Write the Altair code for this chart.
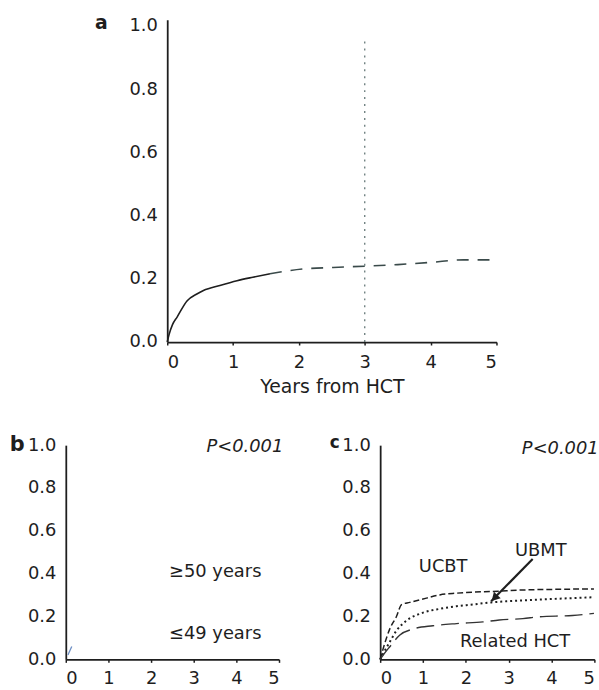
import altair as alt
import pandas as pd

FONT = "DejaVu Sans"
INK = "#1e1e1e"

# ---------------- Panel a : overall cumulative incidence ----------------
years_a = [0, 0.03, 0.08, 0.15, 0.3, 0.45, 0.55, 0.8, 1.06, 1.3, 1.56, 2.06, 2.52, 3.0, 3.5, 4.0, 4.5, 4.95]
cum_a = [0, 0.025, 0.055, 0.079, 0.13, 0.152, 0.163, 0.179, 0.194, 0.205, 0.216, 0.231, 0.236, 0.24, 0.245, 0.252, 0.26, 0.26]
ref_year = [3.0]
ref_top = [0.96]

# ---------------- Panel b : by age ----------------
years_b = [0.05, 0.14]
cum_b = [0.02, 0.06]
labels_b = ["≥50 years", "≤49 years"]
label_b_x = [2.42, 2.42]
label_b_y = [0.41, 0.12]

# ---------------- Panel c : by donor type ----------------
ucbt_t = [0, 0.07, 0.22, 0.38, 0.5, 0.69, 1.08, 1.39, 1.78, 2.16, 2.63, 3.33, 4.1, 4.99]
ucbt_v = [0, 0.05, 0.14, 0.2, 0.256, 0.266, 0.286, 0.301, 0.309, 0.314, 0.317, 0.324, 0.327, 0.329]
ubmt_t = [0, 0.07, 0.22, 0.38, 0.61, 1.0, 1.39, 1.78, 2.16, 2.59, 2.94, 3.71, 4.49, 4.99]
ubmt_v = [0, 0.027, 0.08, 0.134, 0.18, 0.218, 0.236, 0.248, 0.256, 0.266, 0.271, 0.279, 0.286, 0.29]
rel_t = [0, 0.07, 0.22, 0.46, 0.77, 1.23, 1.78, 2.4, 2.78, 3.33, 3.71, 4.49, 4.99]
rel_v = [0, 0.02, 0.058, 0.114, 0.142, 0.157, 0.167, 0.175, 0.184, 0.19, 0.199, 0.205, 0.215]
labels_c = ["UCBT", "UBMT", "Related HCT"]
label_c_x = [1.47, 3.75, 3.15]
label_c_y = [0.43, 0.507, 0.081]
arrow_from = [3.56, 0.469]
arrow_to = [2.59, 0.271]

panel_letters = ["a", "b", "c"]
letter_x = [-1.0, -1.14, -1.06]
letter_y = [1.01, 1.0, 1.01]
p_text = "P<0.001"

x_ticks = [0, 1, 2, 3, 4, 5]
y_ticks = [0, 0.2, 0.4, 0.6, 0.8, 1.0]


def x_enc(title=None, pad=7):
    return alt.X("t:Q", scale=alt.Scale(domain=[0, 5], nice=False, zero=False),
                 axis=alt.Axis(values=x_ticks, format="d", title=title, grid=False,
                               tickSize=3, labelPadding=pad))


def y_enc(top=1.0):
    return alt.Y("v:Q", scale=alt.Scale(domain=[0, top], nice=False),
                 axis=alt.Axis(values=y_ticks, format=".1f", title=None, grid=False,
                               ticks=False, labelPadding=10))


def txt(df, **kw):
    base = dict(font=FONT, fontSize=18, color=INK)
    base.update(kw)
    return alt.Chart(df).mark_text(**base).encode(x="t:Q", y="v:Q", text="s:N")


# ---- panel a
df_a = pd.DataFrame({"t": years_a, "v": cum_a})
line_a1 = alt.Chart(df_a[df_a.t <= 1.6]).mark_line(
    color=INK, strokeWidth=1.6, interpolate="monotone").encode(
    x=x_enc("Years from HCT", pad=9), y=y_enc(1.02))
line_a2 = alt.Chart(df_a[df_a.t >= 1.56]).mark_line(
    color="#3a4a4a", strokeWidth=1.6, strokeDash=[12, 9], interpolate="monotone").encode(x="t:Q", y="v:Q")
df_ref = pd.DataFrame({"t": ref_year, "v": [0], "v2": ref_top})
ref_a = alt.Chart(df_ref).mark_rule(color="#4a6060", strokeWidth=1.1, strokeDash=[2, 5]).encode(
    x="t:Q", y="v:Q", y2="v2:Q")
let_a = txt(pd.DataFrame({"t": [letter_x[0]], "v": [letter_y[0]], "s": [panel_letters[0]]}),
            fontWeight="bold", fontSize=19)
panel_a = alt.layer(line_a1, line_a2, ref_a, let_a).properties(width=332, height=325)

# ---- panel b
df_b = pd.DataFrame({"t": years_b, "v": cum_b})
line_b = alt.Chart(df_b).mark_line(color="#6d8fc4", strokeWidth=1.3).encode(x=x_enc(), y=y_enc())
lab_b = txt(pd.DataFrame({"t": label_b_x, "v": label_b_y, "s": labels_b}), align="left")
p_b = txt(pd.DataFrame({"t": [5.1], "v": [0.99], "s": [p_text]}), align="right", fontStyle="italic")
let_b = txt(pd.DataFrame({"t": [letter_x[1]], "v": [letter_y[1]], "s": [panel_letters[1]]}),
            fontWeight="bold", fontSize=21)
panel_b = alt.layer(line_b, lab_b, p_b, let_b).properties(width=215, height=216)

# ---- panel c
df_u = pd.DataFrame({"t": ucbt_t, "v": ucbt_v})
df_m = pd.DataFrame({"t": ubmt_t, "v": ubmt_v})
df_r = pd.DataFrame({"t": rel_t, "v": rel_v})
l_u = alt.Chart(df_u).mark_line(color=INK, strokeWidth=1.5, strokeDash=[6, 3], interpolate="monotone").encode(
    x=x_enc(), y=y_enc())
l_m = alt.Chart(df_m).mark_line(color=INK, strokeWidth=2, strokeDash=[2, 3], interpolate="monotone").encode(
    x="t:Q", y="v:Q")
l_r = alt.Chart(df_r).mark_line(color="#333333", strokeWidth=1.4, strokeDash=[18, 7],
                                interpolate="monotone").encode(x="t:Q", y="v:Q")
lab_c = txt(pd.DataFrame({"t": label_c_x, "v": label_c_y, "s": labels_c}))
p_c = txt(pd.DataFrame({"t": [5.1], "v": [0.98], "s": [p_text]}), align="right", fontStyle="italic")
let_c = txt(pd.DataFrame({"t": [letter_x[2]], "v": [letter_y[2]], "s": [panel_letters[2]]}),
            fontWeight="bold", fontSize=17)
df_arrow = pd.DataFrame({"t": [arrow_from[0]], "v": [arrow_from[1]],
                         "t2": [arrow_to[0]], "v2": [arrow_to[1]]})
arrow = alt.Chart(df_arrow).mark_rule(color=INK, strokeWidth=2.2).encode(
    x="t:Q", y="v:Q", x2="t2:Q", y2="v2:Q")
head = alt.Chart(pd.DataFrame({"t": [arrow_to[0] + 0.1], "v": [arrow_to[1] + 0.02]})).mark_point(
    shape="triangle", angle=224, size=90, filled=True, color=INK, opacity=1).encode(x="t:Q", y="v:Q")
panel_c = alt.layer(l_u, l_m, l_r, arrow, head, lab_c, p_c, let_c).properties(width=216, height=216)

bottom = alt.hconcat(panel_b, panel_c, spacing=46)
chart = alt.vconcat(panel_a, bottom, spacing=37, center=True).properties(
    padding={"left": 9, "top": 11, "right": 0, "bottom": 0},
    background="white",
).configure_view(stroke=None).configure_axis(
    domainColor=INK, domainWidth=1.8, tickColor=INK, tickWidth=1.5,
    labelFont=FONT, labelFontSize=18, labelColor=INK,
    titleFont=FONT, titleFontSize=19, titleFontWeight="normal", titleColor=INK, titlePadding=6,
)

chart.save("out.html", embed_options={"renderer": "svg", "actions": False})
